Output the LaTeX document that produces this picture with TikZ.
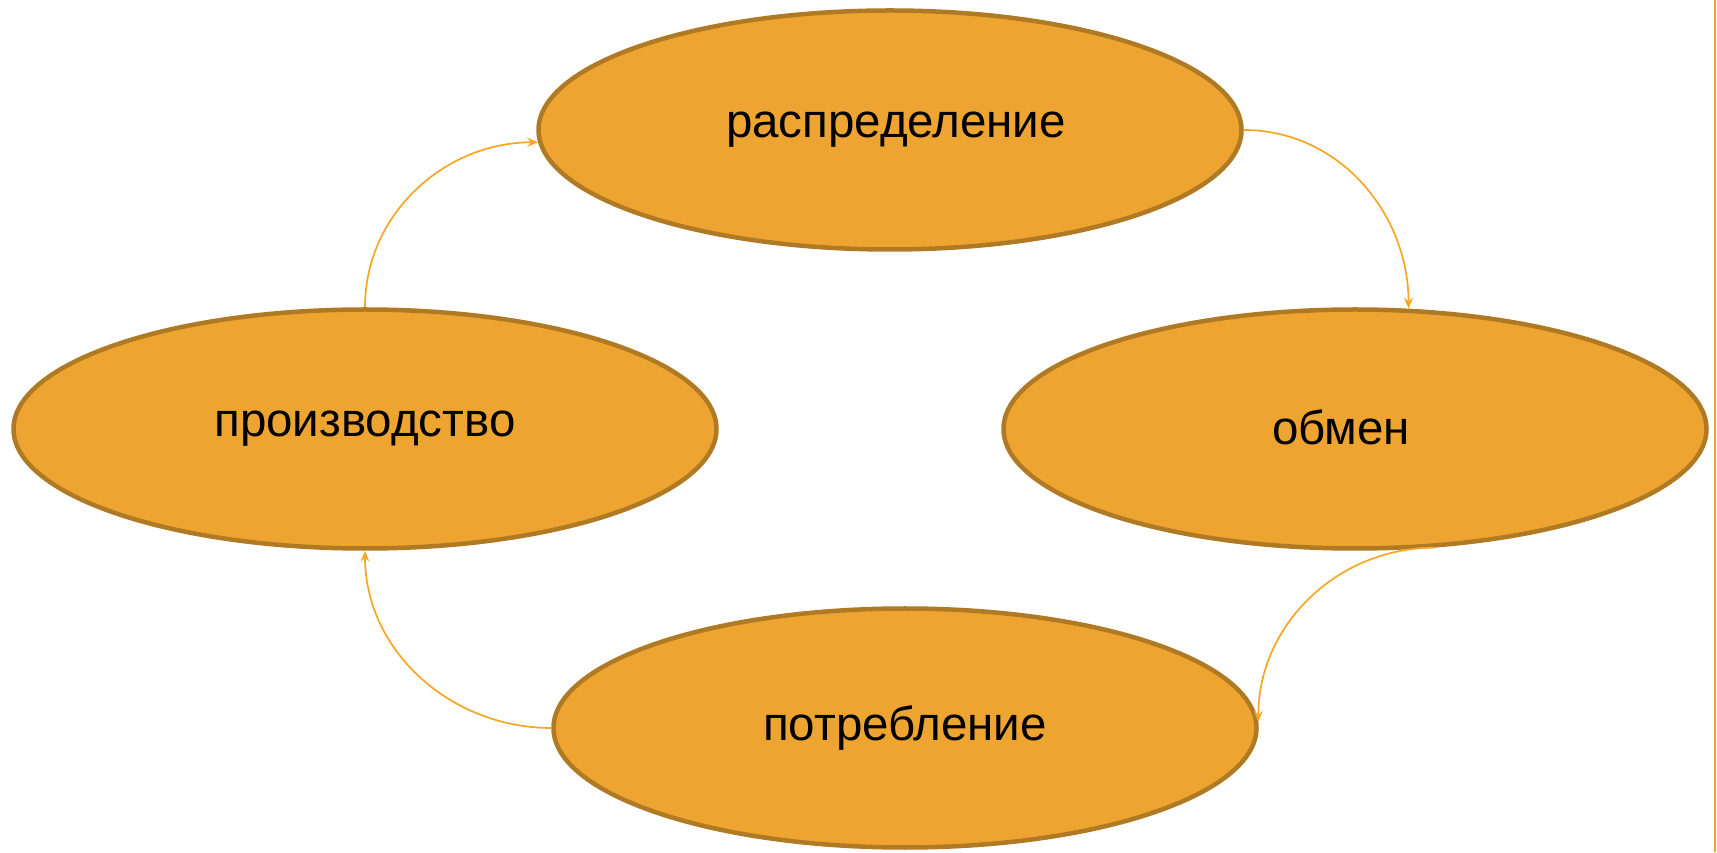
\documentclass[tikz,border=0pt]{standalone}
\usepackage{fontspec}
\setmainfont{Liberation Sans}
\usetikzlibrary{shapes.geometric,arrows.meta}
\definecolor{stagefill}{RGB}{238,164,48}
\definecolor{stageline}{RGB}{176,122,37}
\definecolor{flowline}{RGB}{247,166,35}
\begin{document}
\begin{tikzpicture}[
			x=1pt, y=1pt,
			stage/.style={
				ellipse,
				draw=stageline,
				line width=4.5pt,
				fill=stagefill,
				minimum width=703pt,
				minimum height=239pt,
				font=\fontsize{47.5}{55}\selectfont
			},
			flow/.style={
				draw=flowline,
				line width=1.7pt,
				-{Stealth[length=11pt,width=9pt,inset=4pt]}
			}
		]
		\useasboundingbox (0,0) rectangle (1717,852);

		\node [stage] (R) at (890,722) {\hspace*{12pt}распределение};
		\node [stage] (P) at (365,423) {производство};
		\node [stage] (O) at (1355,423) {\raisebox{4pt}{обмен}\hspace*{28pt}};
		\node [stage] (C) at (905,124) {потребление};

		\draw[flow] (R.east) to[out=0, in=90] (O.66);
		\draw[flow] (O.-56) to[out=180, in=90] (C.1);
		\draw[flow] (C.west) to[out=180, in=-90] (P.south);
		\draw[flow] (P.north) to[out=90, in=180] (R.182);

		% slide edge
		\draw[stagefill, line width=2pt] (1715,0) -- (1715,852);
	\end{tikzpicture}
\end{document}
